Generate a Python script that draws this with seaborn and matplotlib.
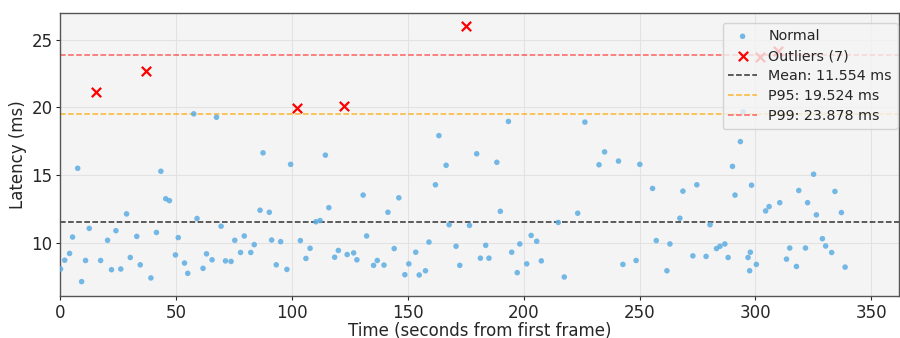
import numpy as np
import pandas as pd
import seaborn as sns
import matplotlib
matplotlib.use("Agg")
from matplotlib import pyplot as plt

# Normal frames: time (s) and latency (ms)
normal_t = [0.1, 1.9, 4.0, 5.3, 7.5, 9.2, 10.9, 12.5, 17.4, 20.4, 22.1, 24.0, 26.1, 28.6,
            30.2, 33.0, 34.5, 39.1, 41.5, 43.4, 45.5, 47.1, 49.7, 50.9, 53.6, 55.0, 57.6,
            59.0, 61.6, 63.1, 65.5, 67.4, 69.4, 71.3, 73.7, 75.3, 77.8, 79.4, 82.2, 83.7,
            86.2, 87.5, 90.2, 91.2, 93.2, 95.1, 97.8, 99.4, 103.6, 106.0, 107.8, 110.3,
            112.1, 114.4, 115.9, 118.4, 120.0, 123.8, 126.6, 128.0, 130.7, 132.2, 135.2,
            136.8, 139.7, 141.4, 144.1, 146.1, 148.7, 150.4, 153.4, 154.9, 157.6, 159.1,
            161.9, 163.4, 166.5, 167.8, 170.8, 172.4, 176.6, 179.7, 181.3, 183.6, 185.0,
            188.4, 189.9, 193.4, 194.8, 197.2, 198.3, 201.3, 203.2, 205.6, 207.6, 214.9,
            217.5, 223.3, 226.4, 232.5, 234.9, 240.9, 242.8, 248.5, 250.1, 255.6, 257.2,
            261.8, 263.1, 267.4, 268.7, 273.0, 274.7, 278.7, 280.4, 283.2, 284.7, 286.8,
            288.2, 290.1, 291.2, 293.5, 294.7, 296.8, 297.5, 297.8, 298.3, 300.4, 304.4,
            305.9, 310.5, 313.4, 314.8, 317.7, 318.7, 321.6, 322.5, 325.1, 326.3, 328.9,
            330.3, 332.9, 334.3, 337.1, 338.7]
normal_ms = [8.05, 8.70, 9.20, 10.41, 15.49, 7.12, 8.68, 11.05, 8.68, 10.17, 8.00, 10.88, 8.05,
             12.12, 8.90, 10.46, 8.36, 7.39, 10.75, 15.27, 13.24, 13.10, 9.09, 10.37, 8.49,
             7.73, 19.51, 11.78, 8.10, 9.17, 8.73, 19.26, 11.21, 8.65, 8.61, 10.17, 9.27,
             10.49, 9.27, 9.85, 12.39, 16.63, 12.24, 10.19, 8.36, 10.07, 8.02, 15.78, 10.15,
             8.83, 9.58, 11.54, 11.63, 16.46, 12.58, 8.92, 9.42, 9.12, 9.24, 8.73, 13.51,
             10.49, 8.32, 8.68, 8.34, 12.24, 9.56, 13.31, 7.63, 8.43, 9.29, 7.61, 7.92, 10.04,
             14.27, 17.90, 15.71, 11.32, 9.73, 8.32, 11.27, 16.56, 8.85, 9.80, 8.85, 15.93,
             12.31, 18.95, 9.29, 7.78, 9.90, 8.43, 10.53, 10.10, 8.65, 11.49, 7.46, 12.17,
             18.90, 15.75, 16.70, 16.02, 8.39, 8.68, 15.78, 14.00, 10.15, 7.92, 9.90, 11.80,
             13.80, 9.02, 14.27, 8.98, 11.32, 9.56, 9.73, 9.90, 8.90, 15.63, 13.51, 17.46,
             19.66, 8.90, 7.92, 9.29, 14.24, 8.39, 12.34, 12.66, 12.95, 8.78, 9.60, 8.24,
             13.85, 9.60, 12.95, 15.05, 12.05, 10.29, 9.75, 9.27, 13.78, 12.22, 8.19]

# Outlier frames
outlier_t = [15.6, 37.2, 102.0, 122.4, 175.0, 301.8, 309.6]
outlier_ms = [21.12, 22.68, 19.97, 20.07, 25.97, 23.73, 24.12]

# Summary statistics shown in the legend
mean_ms = 11.554
p95_ms = 19.524
p99_ms = 23.878

normal_df = pd.DataFrame({"t": normal_t, "ms": normal_ms})
outlier_df = pd.DataFrame({"t": outlier_t, "ms": outlier_ms})

sns.set_style("whitegrid", {"axes.facecolor": "#f4f4f4", "axes.edgecolor": "#555555",
                            "grid.color": "#e2e2e2"})
plt.rcParams["font.family"] = ["DejaVu Sans"]

fig, ax = plt.subplots(figsize=(9, 3.38), dpi=100)

sns.scatterplot(data=normal_df, x="t", y="ms", ax=ax, color="#5dade2", s=16,
                edgecolor="none", alpha=0.85, label="Normal", zorder=3)
sns.scatterplot(data=outlier_df, x="t", y="ms", ax=ax, color="red", marker="x", s=45,
                linewidth=1.6, label=f"Outliers ({len(outlier_t)})", zorder=4)

ax.axhline(mean_ms, color="black", linestyle="--", linewidth=1.1, alpha=0.8,
           label=f"Mean: {mean_ms:.3f} ms")
ax.axhline(p95_ms, color="orange", linestyle="--", linewidth=1.1, alpha=0.8,
           label=f"P95: {p95_ms:.3f} ms")
ax.axhline(p99_ms, color="red", linestyle="--", linewidth=1.1, alpha=0.6,
           label=f"P99: {p99_ms:.3f} ms")

ax.set_xlim(0, 362)
ax.set_ylim(6.05, 26.97)
ax.set_xlabel("Time (seconds from first frame)", fontsize=12, labelpad=0)
ax.set_ylabel("Latency (ms)", fontsize=12, labelpad=3)
ax.tick_params(axis="both", labelsize=12, length=3, pad=2.5, left=True, bottom=True)
for s in ax.spines.values():
    s.set_linewidth(1.0)

ax.legend(loc="upper right", bbox_to_anchor=(1.0, 0.968), borderaxespad=0.1,
          fontsize=10.3, framealpha=0.8, borderpad=0.4,
          handlelength=2.0, labelspacing=0.42)

fig.subplots_adjust(left=0.067, right=0.999, top=0.962, bottom=0.124)
fig.savefig("out.png", dpi=100)
